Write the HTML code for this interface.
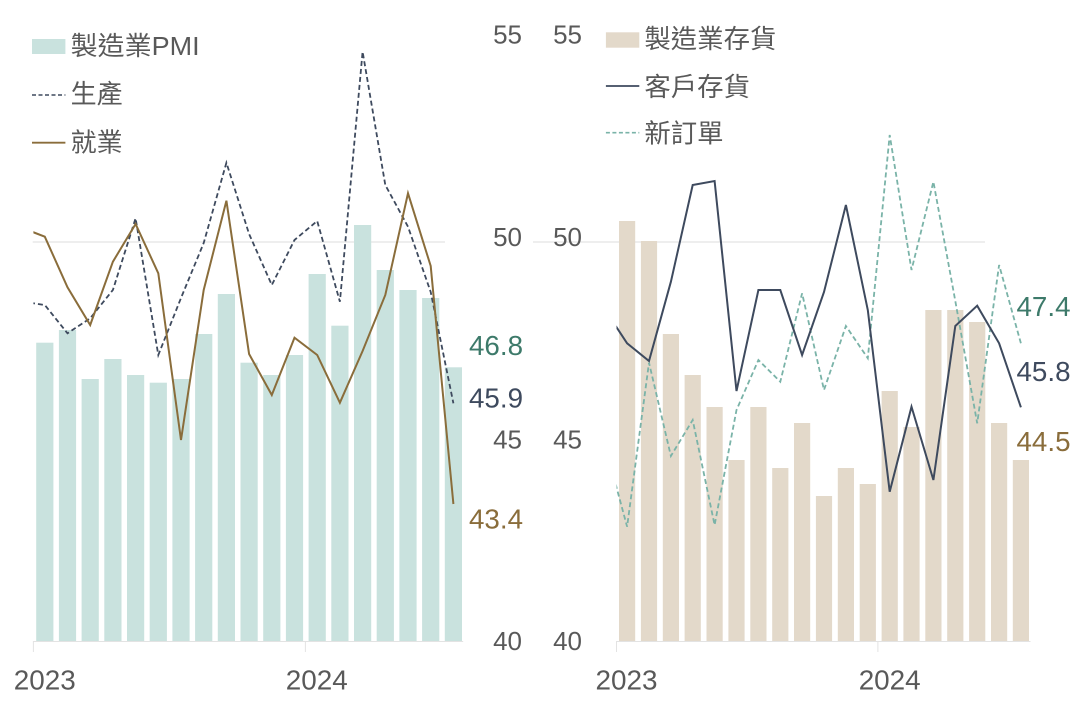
<!DOCTYPE html>
<html><head><meta charset="utf-8"><style>
html,body{margin:0;padding:0;background:#fff;}
svg{display:block;}
text{font-family:"Liberation Sans","Noto Sans CJK TC","Noto Sans CJK SC",sans-serif;}
</style></head><body>
<svg width="1077" height="718" viewBox="0 0 1077 718" xmlns="http://www.w3.org/2000/svg">
<defs>
<clipPath id="cl"><rect x="33.4" y="0" width="430" height="718"/></clipPath>
<clipPath id="cr"><rect x="616.5" y="0" width="414" height="718"/></clipPath>
</defs>
<rect width="1077" height="718" fill="#fff"/>
<!-- gridlines -->
<line x1="32.7" y1="242" x2="445" y2="242" stroke="#dedede" stroke-width="1"/>
<line x1="533" y1="242" x2="985" y2="242" stroke="#dedede" stroke-width="1"/>

<!-- LEFT bars -->
<g fill="#c9e2de">
<rect x="36.2" y="342.7" width="17.2" height="298.3"/>
<rect x="58.9" y="330" width="17.2" height="311"/>
<rect x="81.6" y="379" width="17.2" height="262"/>
<rect x="104.3" y="359" width="17.2" height="282"/>
<rect x="127.0" y="375" width="17.2" height="266"/>
<rect x="149.7" y="382.7" width="17.2" height="258.3"/>
<rect x="172.4" y="379" width="17.2" height="262"/>
<rect x="195.1" y="334" width="17.2" height="307"/>
<rect x="217.8" y="294" width="17.2" height="347"/>
<rect x="240.5" y="362.7" width="17.2" height="278.3"/>
<rect x="263.2" y="375" width="17.2" height="266"/>
<rect x="285.9" y="355" width="17.2" height="286"/>
<rect x="308.6" y="274" width="17.2" height="367"/>
<rect x="331.3" y="325.7" width="17.2" height="315.3"/>
<rect x="354.0" y="225" width="17.2" height="416"/>
<rect x="376.7" y="270" width="17.2" height="371"/>
<rect x="399.4" y="290" width="17.2" height="351"/>
<rect x="422.1" y="298" width="17.2" height="343"/>
<rect x="444.8" y="367.3" width="17.2" height="273.7"/>
</g>
<!-- left axis -->
<line x1="33.4" y1="641.5" x2="463.2" y2="641.5" stroke="#e3e3e3" stroke-width="1"/>
<line x1="33.4" y1="641" x2="33.4" y2="652" stroke="#e3e3e3" stroke-width="1"/>
<line x1="305.4" y1="641" x2="305.4" y2="652" stroke="#e3e3e3" stroke-width="1"/>

<!-- LEFT lines -->
<g clip-path="url(#cl)" fill="none" stroke-linejoin="miter">
<polyline stroke="#3e4a5e" stroke-width="1.8" stroke-dasharray="5,3" points="22.1,301.6 44.8,305 67.5,333.3 90.2,318.3 112.9,290 135.6,218.3 158.3,355 181,298 203.7,243 226.4,162.7 249.1,234 271.8,285 294.5,240 317.2,221 339.9,301.7 362.6,51.7 385.3,185 408,226.7 430.7,292 453.4,403.3"/>
<polyline stroke="#8a6d3b" stroke-width="2" points="22.1,227.9 44.8,236.7 67.5,287.3 90.2,325 112.9,261.7 135.6,224 158.3,273.3 181,440 203.7,290 226.4,200.7 249.1,354 271.8,395 294.5,337.7 317.2,355 339.9,402.7 362.6,351 385.3,295 408,193.3 430.7,266 453.4,504"/>
</g>

<!-- left legend -->
<rect x="32" y="39" width="33.4" height="15" fill="#c9e2de"/>
<text x="70.6" y="55" font-size="26" fill="#595959" textLength="129" lengthAdjust="spacingAndGlyphs">製造業PMI</text>
<line x1="32" y1="95" x2="65.4" y2="95" stroke="#3e4a5e" stroke-width="1.6" stroke-dasharray="4,2.5"/>
<text x="70.6" y="103.2" font-size="26" fill="#595959" textLength="52" lengthAdjust="spacingAndGlyphs">生產</text>
<line x1="32" y1="142.7" x2="65.4" y2="142.7" stroke="#8a6d3b" stroke-width="1.8"/>
<text x="70.6" y="151.6" font-size="26" fill="#595959" textLength="52" lengthAdjust="spacingAndGlyphs">就業</text>

<!-- left tick labels -->
<g font-size="26" fill="#595959" text-anchor="end">
<text x="522" y="43.5">55</text>
<text x="522" y="245.8">50</text>
<text x="522" y="448.3">45</text>
<text x="522" y="650">40</text>
</g>
<!-- left value labels -->
<text x="469" y="355" font-size="28" fill="#3d7a6a" textLength="54" lengthAdjust="spacingAndGlyphs">46.8</text>
<text x="469" y="407.7" font-size="28" fill="#3e4a5e" textLength="54" lengthAdjust="spacingAndGlyphs">45.9</text>
<text x="469" y="528.3" font-size="28" fill="#8a6d3b" textLength="54" lengthAdjust="spacingAndGlyphs">43.4</text>
<!-- left x labels -->
<text x="44.8" y="689.5" font-size="28" fill="#595959" text-anchor="middle" textLength="62" lengthAdjust="spacingAndGlyphs">2023</text>
<text x="316.8" y="689.5" font-size="28" fill="#595959" text-anchor="middle" textLength="62" lengthAdjust="spacingAndGlyphs">2024</text>

<!-- RIGHT bars -->
<g fill="#e3d9ca">
<rect x="619" y="221" width="16.2" height="420"/>
<rect x="640.9" y="241" width="16.2" height="400"/>
<rect x="662.8" y="334" width="16.2" height="307"/>
<rect x="684.6" y="375" width="16.2" height="266"/>
<rect x="706.5" y="407" width="16.2" height="234"/>
<rect x="728.4" y="460" width="16.2" height="181"/>
<rect x="750.3" y="407" width="16.2" height="234"/>
<rect x="772.2" y="468" width="16.2" height="173"/>
<rect x="794" y="423" width="16.2" height="218"/>
<rect x="815.9" y="496" width="16.2" height="145"/>
<rect x="837.8" y="468" width="16.2" height="173"/>
<rect x="859.7" y="484" width="16.2" height="157"/>
<rect x="881.6" y="391" width="16.2" height="250"/>
<rect x="903.4" y="427" width="16.2" height="214"/>
<rect x="925.3" y="310" width="16.2" height="331"/>
<rect x="947.2" y="310" width="16.2" height="331"/>
<rect x="969.1" y="322" width="16.2" height="319"/>
<rect x="991" y="423" width="16.2" height="218"/>
<rect x="1012.8" y="460" width="16.2" height="181"/>
</g>
<!-- right axis -->
<line x1="616.5" y1="641.5" x2="1030.5" y2="641.5" stroke="#e3e3e3" stroke-width="1"/>
<line x1="616.5" y1="641" x2="616.5" y2="652" stroke="#e3e3e3" stroke-width="1"/>
<line x1="877.9" y1="641" x2="877.9" y2="652" stroke="#e3e3e3" stroke-width="1"/>

<!-- RIGHT lines -->
<g clip-path="url(#cr)" fill="none">
<polyline stroke="#7ab3a8" stroke-width="1.8" stroke-dasharray="5,3" points="605.2,445.3 627.1,526.7 649,362.7 670.9,456 692.7,420 714.6,525 736.5,410 758.4,360 780.3,381.7 802.1,293.3 824,390 845.9,326 867.8,358.3 889.7,135 911.5,270 933.4,181.7 955.3,301 977.2,423.3 999.1,265 1020.9,343.3"/>
<polyline stroke="#3e4a5e" stroke-width="2" points="605.2,310 627.1,343.3 649,361 670.9,281.7 692.7,185 714.6,181 736.5,391 758.4,290 780.3,290 802.1,355 824,292 845.9,205 867.8,310 889.7,491.7 911.5,406.7 933.4,480 955.3,326 977.2,305.7 999.1,343.3 1020.9,407.3"/>
</g>

<!-- right legend -->
<rect x="605.9" y="32.3" width="33.4" height="15.4" fill="#e3d9ca"/>
<text x="644.4" y="48.2" font-size="26" fill="#595959" textLength="132" lengthAdjust="spacingAndGlyphs">製造業存貨</text>
<line x1="605.9" y1="86" x2="639.3" y2="86" stroke="#3e4a5e" stroke-width="1.8"/>
<text x="644.4" y="96" font-size="26" fill="#595959" textLength="105.6" lengthAdjust="spacingAndGlyphs">客戶存貨</text>
<line x1="605.9" y1="132.7" x2="639.3" y2="132.7" stroke="#7ab3a8" stroke-width="1.6" stroke-dasharray="4,2.5"/>
<text x="644.4" y="142.4" font-size="26" fill="#595959" textLength="79.2" lengthAdjust="spacingAndGlyphs">新訂單</text>

<!-- right tick labels -->
<g font-size="26" fill="#595959" text-anchor="end">
<text x="582" y="43.5">55</text>
<text x="582" y="245.8">50</text>
<text x="582" y="448.3">45</text>
<text x="582" y="650">40</text>
</g>
<!-- right value labels -->
<text x="1016.5" y="315.8" font-size="28" fill="#3d7a6a" textLength="54" lengthAdjust="spacingAndGlyphs">47.4</text>
<text x="1016.5" y="380.8" font-size="28" fill="#3e4a5e" textLength="54" lengthAdjust="spacingAndGlyphs">45.8</text>
<text x="1016.5" y="450.8" font-size="28" fill="#8a6d3b" textLength="54" lengthAdjust="spacingAndGlyphs">44.5</text>
<!-- right x labels -->
<text x="626.5" y="689.5" font-size="28" fill="#595959" text-anchor="middle" textLength="62" lengthAdjust="spacingAndGlyphs">2023</text>
<text x="889.7" y="689.5" font-size="28" fill="#595959" text-anchor="middle" textLength="62" lengthAdjust="spacingAndGlyphs">2024</text>
</svg>
</body></html>
